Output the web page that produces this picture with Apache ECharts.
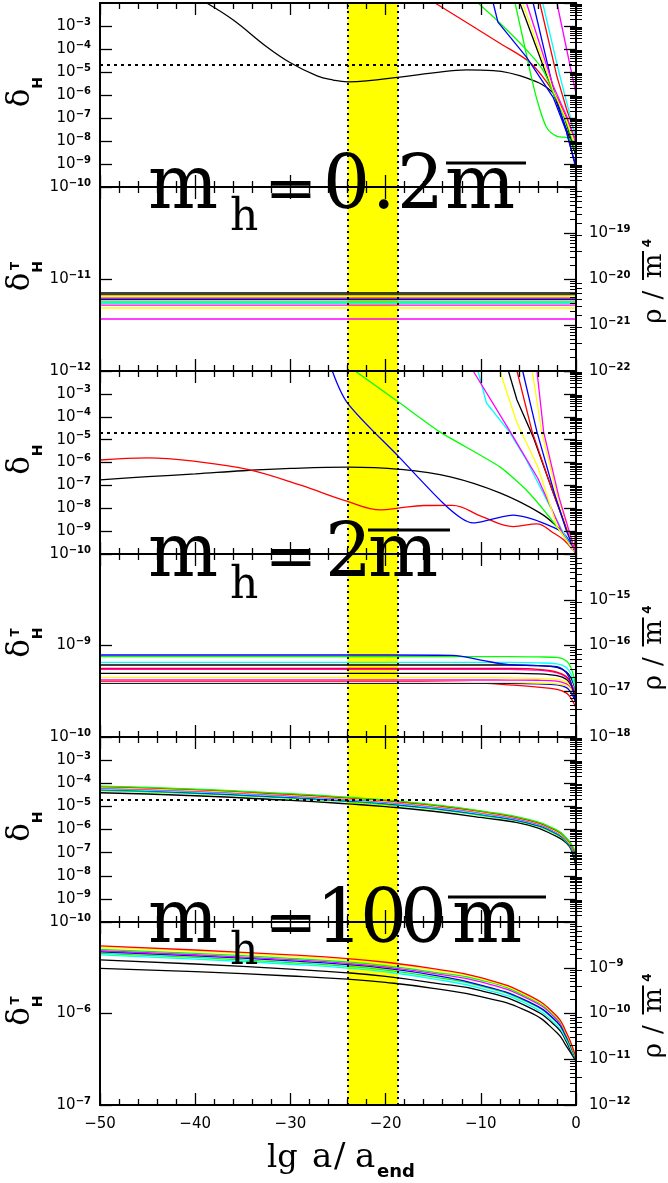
<!DOCTYPE html>
<html><head><meta charset="utf-8">
<script src="https://cdn.jsdelivr.net/npm/echarts@6/dist/echarts.min.js"></script>
<style>html,body{margin:0;padding:0;background:#fff}#c{width:668px;height:1183px}</style>
</head><body><div id="c"></div>
<script>
// ================= DATA (y values are lg of the plotted quantity) =================
const xMin = -50, xMax = 0;
const bandEdges = [-24, -18.7];          // yellow band, lg a/a_end
const deltaObs = 2e-5;                    // dotted horizontal level in delta_H panels

// ---- panel 1 : m_h = 0.2 m̄, delta_H ----
const p1_black_a = [[-38.8,-2],[-36,-2.74],[-32.5,-3.9],[-30,-4.6],[-27.2,-5.17],[-25.5,-5.35],[-24,-5.43],[-22,-5.39],[-18.5,-5.22],[-15,-5.04],[-11.5,-4.91],[-8.7,-4.94],[-5.2,-5.26],[-2.4,-5.9],[-1.4,-6.78],[-0.3,-8.2],[0,-8.7]];
const p1_black_b = [[-5.9,-2],[-2.4,-5.9],[-1,-7.5],[0,-8.6]];
const p1_red_a = [[-14.8,-2],[-8,-3.75],[-4.8,-4.6],[-2.4,-5.85],[-1,-7.0],[0,-8.0]];
const p1_red_b = [[-3.8,-2],[-2,-5.2],[-1,-6.6],[0,-7.8]];
const p1_green_a = [[-10.3,-2],[-8,-2.87],[-5.2,-4.04],[-3.5,-4.9],[-2.4,-5.9],[-1,-7.2],[0,-8.5]];
const p1_green_b = [[-6.4,-2],[-5.6,-3.5],[-4.7,-5.2],[-4.1,-6.2],[-3.1,-7.4],[-2.0,-7.8],[-0.8,-7.87],[0,-8.5]];
const p1_blue_a = [[-8.7,-2],[-8.2,-2.83],[-5.2,-4.35],[-2.4,-6.1],[-1,-7.6],[0,-9.1]];
const p1_blue_b = [[-4.5,-2],[-2.4,-5.7],[-1,-7.6],[0,-9.2]];
const p1_yellow = [[-5.6,-2],[-2.4,-5.8],[-1,-7.1],[0,-8.3]];
const p1_cyan = [[-3.5,-2],[-1.8,-5.0],[-0.8,-6.6],[0,-7.9]];
const p1_magenta_a = [[-2,-2],[0,-5.95]];
const p1_magenta_b = [[-5.2,-2],[-2.4,-5.6],[-1,-6.9],[0,-8.1]];

// ---- panel 2 : m_h = 0.2 m̄, delta_H^T (flat levels) ----
const p2_levels = [-11.152,-11.174,-11.185,-11.207,-11.223,-11.25,-11.266,-11.283,-11.315,-11.435];
const p2_colors = ['K','K','Y','R','B','G','C','M','Y','M'];

// ---- panel 3 : m_h = 2 m̄, delta_H ----
const p3_black_a = [[-50,-6.76],[-45,-6.62],[-40,-6.5],[-35,-6.36],[-30,-6.26],[-24,-6.2],[-18.5,-6.3],[-13.2,-6.63],[-8,-7.33],[-3.8,-8.2],[-2,-8.8],[-1,-9.3],[0,-10]];
const p3_red_a = [[-50,-5.89],[-45,-5.8],[-40,-5.95],[-34.5,-6.3],[-29,-6.98],[-24,-7.7],[-20.5,-8.07],[-18.5,-7.98],[-16,-7.88],[-13,-7.87],[-9.8,-8.38],[-6.6,-8.8],[-4.1,-8.68],[-2.4,-9.07],[-1.3,-9.38],[-0.3,-9.82],[0,-7.63]];
const p3_blue_a = [[-25.6,-2],[-24,-3.4],[-18.5,-5.8],[-14,-7.76],[-12,-8.45],[-10.8,-8.64],[-9,-8.5],[-6.6,-8.3],[-5,-8.42],[-3.5,-8.64],[-1.3,-9.1],[0,-10]];
const p3_green_a = [[-23.2,-2],[-18.5,-3.4],[-14.3,-4.66],[-8,-6.19],[-5,-7.3],[-2,-8.81],[0,-10]];
const p3_cyan = [[-10.3,-2],[-9.4,-3.4],[-7,-4.66],[-5.2,-5.9],[-1.3,-9.1],[0,-10]];
const p3_magenta_a = [[-10.8,-2],[-6.9,-4.66],[-4,-6.7],[-1.3,-9.2],[0,-10]];
const p3_yellow_a = [[-8,-2],[-6.2,-4.27],[-4,-6.2],[-2,-8.8],[0,-10]];
const p3_black_b = [[-7.1,-2],[-6.2,-3.27],[-4.5,-4.88],[-2.5,-7.2],[-1,-8.9],[0,-10]];
const p3_red_b = [[-6.2,-2],[-4.6,-4.66],[-2.5,-7.2],[-1,-8.9],[0,-10]];
const p3_blue_b = [[-5.6,-2],[-4.1,-4.66],[-2.3,-7.3],[-1,-9],[0,-10]];
const p3_yellow_b = [[-4.6,-2],[-3.6,-4.66],[-2,-7.4],[0,-10]];
const p3_magenta_b = [[-4.1,-2],[-3.4,-4.66],[-1.8,-7.5],[0,-10]];

// ---- panel 4 : m_h = 2 m̄, delta_H^T ----
const p4_x = [-50,-20,-13,-10,-7,-4,-2,-1,-0.5,0];
const p4_blue_a    = [-9.104,-9.104,-9.108,-9.16,-9.21,-9.22,-9.23,-9.30,-9.42,-9.65];
const p4_green_a   = [-9.122,-9.122,-9.122,-9.122,-9.122,-9.125,-9.13,-9.17,-9.25,-9.45];
const p4_cyan      = [-9.184,-9.184,-9.184,-9.184,-9.185,-9.19,-9.20,-9.24,-9.32,-9.50];
const p4_black_a   = [-9.213,-9.213,-9.213,-9.213,-9.213,-9.22,-9.24,-9.29,-9.36,-9.50];
const p4_red_a     = [-9.249,-9.249,-9.249,-9.249,-9.25,-9.26,-9.29,-9.34,-9.42,-9.55];
const p4_magenta_a = [-9.26,-9.26,-9.26,-9.26,-9.262,-9.27,-9.30,-9.35,-9.42,-9.55];
const p4_black_b   = [-9.304,-9.304,-9.304,-9.304,-9.305,-9.31,-9.33,-9.37,-9.44,-9.55];
const p4_yellow_a  = [-9.352,-9.352,-9.352,-9.352,-9.353,-9.36,-9.37,-9.40,-9.45,-9.55];
const p4_magenta_b = [-9.377,-9.377,-9.377,-9.377,-9.378,-9.38,-9.39,-9.42,-9.46,-9.55];
const p4_yellow_b  = [-9.402,-9.402,-9.402,-9.402,-9.403,-9.41,-9.42,-9.44,-9.48,-9.57];
const p4_blue_b    = [-9.413,-9.413,-9.413,-9.413,-9.414,-9.42,-9.43,-9.46,-9.52,-9.62];
const p4_red_b     = [-9.395,-9.395,-9.40,-9.41,-9.43,-9.455,-9.48,-9.52,-9.58,-9.68];

// ---- panels 5 & 6 : m_h = 100 m̄ ----
const p56_x = [-50,-40,-30,-24,-20,-15,-10,-5,-2,-1,-0.5,0];
const p5_green_a = [-4.12,-4.25,-4.45,-4.60,-4.72,-4.92,-5.19,-5.56,-6.03,-6.37,-6.62,-7.00];
const p5_red     = [-4.15,-4.28,-4.48,-4.63,-4.75,-4.95,-5.22,-5.59,-6.06,-6.40,-6.66,-7.10];
const p5_yellow  = [-4.18,-4.31,-4.51,-4.66,-4.78,-4.98,-5.25,-5.62,-6.09,-6.43,-6.69,-7.05];
const p5_magenta = [-4.21,-4.34,-4.54,-4.69,-4.81,-5.01,-5.28,-5.65,-6.12,-6.45,-6.72,-7.15];
const p5_cyan    = [-4.25,-4.38,-4.58,-4.73,-4.85,-5.05,-5.32,-5.68,-6.15,-6.48,-6.75,-7.20];
const p5_blue    = [-4.28,-4.41,-4.61,-4.76,-4.88,-5.08,-5.35,-5.71,-6.18,-6.51,-6.78,-7.30];
const p5_green_b = [-4.32,-4.45,-4.65,-4.80,-4.92,-5.12,-5.39,-5.75,-6.22,-6.55,-6.82,-7.40];
const p5_black   = [-4.41,-4.54,-4.74,-4.89,-5.01,-5.21,-5.48,-5.81,-6.31,-6.59,-6.88,-7.60];

const p6_red     = [-5.262,-5.306,-5.36,-5.40,-5.44,-5.51,-5.608,-5.80,-6.03,-6.21,-6.33,-6.48];
const p6_yellow  = [-5.277,-5.321,-5.375,-5.415,-5.455,-5.525,-5.62,-5.81,-6.04,-6.22,-6.34,-6.48];
const p6_green_a = [-5.299,-5.343,-5.397,-5.437,-5.477,-5.547,-5.634,-5.825,-6.05,-6.23,-6.35,-6.49];
const p6_magenta = [-5.314,-5.358,-5.412,-5.452,-5.492,-5.562,-5.655,-5.84,-6.065,-6.24,-6.36,-6.49];
const p6_blue    = [-5.325,-5.37,-5.425,-5.466,-5.506,-5.58,-5.689,-5.87,-6.09,-6.26,-6.37,-6.50];
const p6_green_b = [-5.342,-5.387,-5.443,-5.484,-5.525,-5.60,-5.70,-5.88,-6.10,-6.27,-6.38,-6.50];
const p6_cyan    = [-5.36,-5.405,-5.462,-5.503,-5.545,-5.622,-5.725,-5.905,-6.13,-6.29,-6.40,-6.50];
const p6_black_a = [-5.415,-5.459,-5.515,-5.555,-5.595,-5.665,-5.75,-5.93,-6.15,-6.31,-6.42,-6.50];
const p6_black_b = [-5.506,-5.543,-5.59,-5.625,-5.66,-5.725,-5.816,-5.98,-6.21,-6.36,-6.44,-6.52];

// axis ranges (lg)
const leftRanges  = [[-10,-2],[-12,-10],[-10,-2],[-10,-8],[-10,-2],[-7,-5]];
const rightRanges = [null,[-22,-18],null,[-18,-14],null,[-12,-8]];
const xTickStep = 10;

// ================= BUILD =================
const COL = {K:'#000000',R:'#ff0000',G:'#00ff00',B:'#0000ff',C:'#00ffff',M:'#ff00ff',Y:'#ffff00'};
const zip = (xs, ys) => xs.map((x,i)=>[x, ys[i]]);
const LINES = [
  [0,'K',p1_black_a,0.4],[0,'K',p1_black_b,0],[0,'R',p1_red_a,0.3],[0,'R',p1_red_b,0],
  [0,'G',p1_green_a,0.3],[0,'G',p1_green_b,0.3],[0,'B',p1_blue_a,0],[0,'B',p1_blue_b,0],
  [0,'Y',p1_yellow,0],[0,'C',p1_cyan,0],[0,'M',p1_magenta_a,0],[0,'M',p1_magenta_b,0],
  [2,'K',p3_black_a,0.4],[2,'R',p3_red_a,0.4],[2,'B',p3_blue_a,0.3],[2,'G',p3_green_a,0.2],
  [2,'C',p3_cyan,0],[2,'M',p3_magenta_a,0],[2,'Y',p3_yellow_a,0],[2,'K',p3_black_b,0],
  [2,'R',p3_red_b,0],[2,'B',p3_blue_b,0],[2,'Y',p3_yellow_b,0],[2,'M',p3_magenta_b,0],
  [3,'R',zip(p4_x,p4_red_b),0.4],[3,'B',zip(p4_x,p4_blue_b),0.4],[3,'Y',zip(p4_x,p4_yellow_b),0.4],
  [3,'M',zip(p4_x,p4_magenta_b),0.4],[3,'Y',zip(p4_x,p4_yellow_a),0.4],[3,'K',zip(p4_x,p4_black_b),0.4],
  [3,'M',zip(p4_x,p4_magenta_a),0.4],[3,'R',zip(p4_x,p4_red_a),0.4],[3,'K',zip(p4_x,p4_black_a),0.4],
  [3,'C',zip(p4_x,p4_cyan),0.4],[3,'G',zip(p4_x,p4_green_a),0.4],[3,'B',zip(p4_x,p4_blue_a),0.4],
  [4,'K',zip(p56_x,p5_black),0.5],[4,'G',zip(p56_x,p5_green_b),0.5],[4,'B',zip(p56_x,p5_blue),0.5],
  [4,'C',zip(p56_x,p5_cyan),0.5],[4,'M',zip(p56_x,p5_magenta),0.5],[4,'Y',zip(p56_x,p5_yellow),0.5],
  [4,'R',zip(p56_x,p5_red),0.5],[4,'G',zip(p56_x,p5_green_a),0.5],
  [5,'K',zip(p56_x,p6_black_b),0.5],[5,'K',zip(p56_x,p6_black_a),0.5],[5,'C',zip(p56_x,p6_cyan),0.5],
  [5,'G',zip(p56_x,p6_green_b),0.5],[5,'B',zip(p56_x,p6_blue),0.5],[5,'M',zip(p56_x,p6_magenta),0.5],
  [5,'G',zip(p56_x,p6_green_a),0.5],[5,'Y',zip(p56_x,p6_yellow),0.5],[5,'R',zip(p56_x,p6_red),0.5]
];
p2_levels.forEach((v,i)=>LINES.push([1,p2_colors[i],[[xMin,v],[xMax,v]],0]));

const PANEL_BOX = [[3,187],[187,371],[371,554],[554,737],[737,922],[922,1105]];
const PLOT_L = 100, PLOT_R = 92;
const BLK = '#000';
const lineSt = {color:BLK, width:2};
const tickSt = {color:BLK, width:1.3};
const rich = {
  a:{fontSize:15, fontFamily:'DejaVu Sans', color:BLK, lineHeight:18},
  b:{fontSize:10, fontFamily:'DejaVu Sans', fontWeight:'bold', color:BLK, verticalAlign:'top', lineHeight:10}
};
const powLabel = v => { const n = Math.round(v); return '{a|10}{b|' + (n<0?'−':'') + Math.abs(n) + '}'; };
function minorVals(a,b){ const out=[]; for(let d=a; d<b; d++){ for(let k=2;k<=9;k++) out.push(d+Math.log10(k)); } return out; }

const grids=[], xAxes=[], yAxes=[], series=[];
PANEL_BOX.forEach(([t,b],i)=>{
  grids.push({left:PLOT_L, right:PLOT_R, top:t, height:b-t, containLabel:false, outerBoundsMode:'none'});
  ['bottom','top'].forEach(pos=>{
    xAxes.push({gridIndex:i, type:'value', position:pos, min:xMin, max:xMax, interval:xTickStep, z:5,
      axisLine:{show:true, onZero:false, lineStyle:lineSt},
      axisTick:{show:true, inside:true, length:12, lineStyle:tickSt},
      minorTick:{show:true, splitNumber:5, length:6, lineStyle:tickSt},
      splitLine:{show:false}, minorSplitLine:{show:false},
      axisLabel:{show:(i===5 && pos==='bottom'), margin:12, fontSize:15, fontFamily:'DejaVu Sans', color:BLK,
        formatter:v=> v<0 ? '−'+(-v) : String(v)}});
  });
  const L = leftRanges[i], R = rightRanges[i] || leftRanges[i];
  [['left',L,true],['right',R,!!rightRanges[i]]].forEach(([pos,rg,lab])=>{
    yAxes.push({gridIndex:i, type:'value', position:pos, min:rg[0], max:rg[1], interval:1, z:5,
      axisLine:{show:true, onZero:false, lineStyle:lineSt},
      axisTick:{show:true, inside:true, length:12, lineStyle:tickSt},
      splitLine:{show:false},
      axisLabel:{show:lab, margin:(pos==='left'?9:13), formatter:powLabel, rich, color:BLK, showMinLabel:true, showMaxLabel:false}});
    yAxes.push({gridIndex:i, type:'value', position:pos, min:rg[0], max:rg[1], z:5,
      axisLine:{show:false},
      axisTick:{show:true, inside:true, length:6, lineStyle:{color:BLK, width:1}, customValues:minorVals(rg[0],rg[1])},
      splitLine:{show:false}, axisLabel:{show:false}});
  });
  const ml = [{xAxis:bandEdges[0]},{xAxis:bandEdges[1]}];
  if (i%2===0) ml.push({yAxis:Math.log10(deltaObs), lineStyle:{type:[3,4], width:2, color:BLK}});
  series.push({type:'line', xAxisIndex:2*i, yAxisIndex:4*i, data:[], z:1, silent:true,
    markArea:{silent:true, itemStyle:{color:'#ffff00'}, data:[[{xAxis:bandEdges[0]},{xAxis:bandEdges[1]}]]},
    markLine:{silent:true, symbol:['none','none'], label:{show:false}, emphasis:{disabled:true},
      lineStyle:{color:BLK, width:2, type:[2,4]}, data:ml}});
});
LINES.forEach(([p,c,d,sm])=>{
  series.push({type:'line', xAxisIndex:2*p, yAxisIndex:4*p, data:d, showSymbol:false, symbol:'none',
    smooth:sm||false, silent:true, z:3,
    lineStyle:{color:COL[c], width:1.3}, itemStyle:{color:COL[c]}, emphasis:{disabled:true}});
});

// ---------- titles / annotations (graphic text) ----------
const G = [];
const BIG = 74, BIGF = BIG+'px "DejaVu Serif"', MID = 0.297;
function txt(text, x, y, font, opt={}){ G.push(Object.assign({type:'text', x, y, z:100, silent:true,
  style:{text, font, fill:BLK, align:opt.align||'left', verticalAlign:'middle'}}, opt.rot?{rotation:opt.rot}:{})); }
function rect(x,y,w,h){ G.push({type:'rect', z:100, silent:true, shape:{x,y,width:w,height:h}, style:{fill:BLK}}); }
function bigLabel(base, pieces, over){
  pieces.forEach(([s,x])=>txt(s, x, base - MID*BIG, BIGF));
  txt('=', 265, base - MID*62, '62px "DejaVu Serif"');
  txt('h', 230, base + 21 - MID*44, '44px "DejaVu Serif"');
  rect(over[0], over[2]-1.5, over[1]-over[0], 3);
}
bigLabel(211, [['m',148],['0',323],['.',372],['2',397],['m',445]], [446,526,163]);
bigLabel(579, [['m',148],['2',325],['m',368]], [368,450,530]);
bigLabel(945, [['m',148],['1',316],['0',360],['0',400],['m',452]], [448,546,897]);

const ROT = Math.PI/2;
PANEL_BOX.forEach(([t,b],i)=>{
  const c = (t+b)/2;
  txt('δ', 21, c+3, '31px "DejaVu Serif"', {align:'center', rot:ROT});
  txt('H', 38.7, c-12, 'bold 14px "DejaVu Sans"', {align:'center', rot:ROT});
  if (i%2===1){
    txt('T', 16.3, c-13, 'bold 12px "DejaVu Sans"', {align:'center', rot:ROT});
    txt('ρ', 654, c+37, '26px "DejaVu Serif"', {align:'center', rot:ROT});
    txt('/', 654, c+16, '26px "DejaVu Serif"', {align:'center', rot:ROT});
    txt('m', 654, c-13, '26px "DejaVu Serif"', {align:'center', rot:ROT});
    rect(642, c-28, 2, 29);
    txt('4', 648.3, c-36, 'bold 12px "DejaVu Sans"', {align:'center', rot:ROT});
  }
});
// x-axis title
txt('lg', 267, 1168 - MID*32, '32px "DejaVu Serif"');
txt('a', 312, 1168 - MID*34, '34px "DejaVu Serif"');
txt('/', 334, 1168 - MID*34, '34px "DejaVu Serif"');
txt('a', 355, 1168 - MID*34, '34px "DejaVu Serif"');
txt('end', 377, 1178 - 0.3*18, 'bold 18px "DejaVu Sans"');

const chart = echarts.init(document.getElementById('c'), null, {renderer:'canvas'});
chart.setOption({
  animation:false, backgroundColor:'#ffffff',
  grid:grids, xAxis:xAxes, yAxis:yAxes, series,
  graphic:{elements:G}
});
</script></body></html>
